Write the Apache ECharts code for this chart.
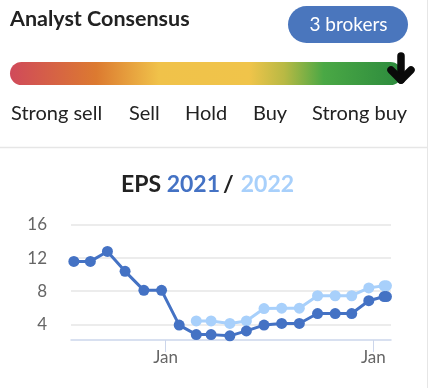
<!DOCTYPE html>
<html>
<head>
<meta charset="utf-8">
<script src="https://cdn.jsdelivr.net/npm/echarts@6/dist/echarts.min.js"></script>
<style>
html,body{margin:0;padding:0;background:#fff;}
#c{width:435px;height:388px;}
</style>
</head>
<body>
<div id="c"></div>
<script>
// ---- data ----
var dates = ["2020-07-24","2020-08-22","2020-09-21","2020-10-22","2020-11-24","2020-12-25",
  "2021-01-25","2021-02-24","2021-03-22","2021-04-24","2021-05-23","2021-06-23","2021-07-24",
  "2021-08-24","2021-09-25","2021-10-26","2021-11-24","2021-12-24","2022-01-20","2022-01-24"];
var eps2021 = [11.6,11.6,12.8,10.4,8.1,8.1,3.9,2.75,2.75,2.6,3.2,3.9,4.1,4.1,5.3,5.3,5.3,6.85,7.35,7.35];
var eps2022 = [null,null,null,null,null,null,null,4.4,4.4,4.1,4.4,5.9,5.95,5.95,7.45,7.45,7.45,8.4,8.65,8.65];
var yTicks = [4, 8, 12, 16];
var xTickDates = ["2021-01-01", "2022-01-01"];
var xTickLabel = "Jan";
var consensusLabels = ["Strong sell", "Sell", "Hold", "Buy", "Strong buy"];
var brokersText = "3 brokers";

function ts(s){ return Date.parse(s + "T00:00:00Z"); }
function pairs(vals){ return dates.map(function(d,i){ return [ts(d), vals[i]]; }); }

var FONT = 'Lato';
var chart = echarts.init(document.getElementById('c'), null, {renderer:'canvas'});

var labelX = [11, 129, 185, 253, 312];
var graphics = [
  {type:'line', shape:{x1:427.5,y1:0,x2:427.5,y2:388}, style:{stroke:'#e6e6e6', lineWidth:1}},
  {type:'line', shape:{x1:0,y1:147.5,x2:427,y2:147.5}, style:{stroke:'#e6e6e6', lineWidth:1.5}},
  {type:'text', left:10, top:8, style:{text:'Analyst Consensus', font:'bold 21.5px ' + FONT, fill:'#222'}},
  {type:'rect', shape:{x:288, y:6, width:120, height:37, r:18.5}, style:{fill:'#4a76bd'}},
  {type:'text', x:348.5, y:25, style:{text:brokersText, font:'19px ' + FONT, fill:'#fff', align:'center', verticalAlign:'middle'}},
  {type:'rect', shape:{x:10, y:62, width:392, height:23, r:11.5}, style:{
    fill: new echarts.graphic.LinearGradient(0,0,1,0,[
      {offset:0, color:'#d04a5a'},
      {offset:0.22, color:'#dc7a30'},
      {offset:0.38, color:'#f0c24a'},
      {offset:0.61, color:'#f0c44a'},
      {offset:0.70, color:'#b8b944'},
      {offset:0.80, color:'#4aa845'},
      {offset:1, color:'#2c8a3d'}
    ])}},
  {type:'polyline', shape:{points:[[401,56],[401,80]]}, style:{stroke:'#0a0a0a', lineWidth:7.5, lineCap:'round', fill:null}},
  {type:'polyline', shape:{points:[[391,70],[401,80],[411,70]]}, style:{stroke:'#0a0a0a', lineWidth:7.5, lineCap:'round', lineJoin:'round', fill:null}}
];
consensusLabels.forEach(function(t,i){
  graphics.push({type:'text', x:labelX[i], y:114, style:{text:t, font:'20px ' + FONT, fill:'#222', verticalAlign:'middle'}});
});

var option = {
  animation:false,
  textStyle:{fontFamily:FONT},
  title:{
    left:116, top:168,
    text:'{a|EPS }{b|2021}{s|/}{c|2022}',
    textStyle:{rich:{
      a:{fontFamily:FONT, fontSize:23, color:'#222'},
      s:{fontFamily:FONT, fontSize:23, color:'#222', padding:[0,7,0,3]},
      b:{fontFamily:FONT, fontSize:23, color:'#4472c4'},
      c:{fontFamily:FONT, fontSize:23, color:'#a8d0fb'}
    }}
  },
  graphic:graphics,
  grid:{left:71, right:44, top:225, bottom:48},
  xAxis:{
    type:'value',
    min:ts("2020-07-19"), max:ts("2022-02-01"),
    axisLine:{show:true, lineStyle:{color:'#ccd6eb', width:1.5}},
    axisTick:{show:true, length:12, lineStyle:{color:'#ccd6eb'}, customValues:xTickDates.map(ts)},
    axisLabel:{customValues:xTickDates.map(ts), formatter:function(){return xTickLabel;}, color:'#666', fontSize:17, fontFamily:FONT, margin:9},
    splitLine:{show:false}
  },
  yAxis:{
    type:'value', min:2.1, max:16,
    axisLine:{show:false},
    axisTick:{show:false, customValues:yTicks},
    axisLabel:{customValues:yTicks, color:'#666', fontSize:17, fontFamily:FONT, margin:24},
    splitLine:{show:true, lineStyle:{color:'#e6e6e6', width:1.5}}
  },
  series:[
    {type:'line', name:'2022', data:pairs(eps2022), symbol:'circle', symbolSize:11, showSymbol:true,
     lineStyle:{color:'#a8d0fb', width:3}, itemStyle:{color:'#a8d0fb'}, z:2, connectNulls:false},
    {type:'line', name:'2021', data:pairs(eps2021), symbol:'circle', symbolSize:11, showSymbol:true,
     lineStyle:{color:'#4472c4', width:3}, itemStyle:{color:'#4472c4'}, z:3}
  ]
};
chart.setOption(option);
</script>
</body>
</html>
